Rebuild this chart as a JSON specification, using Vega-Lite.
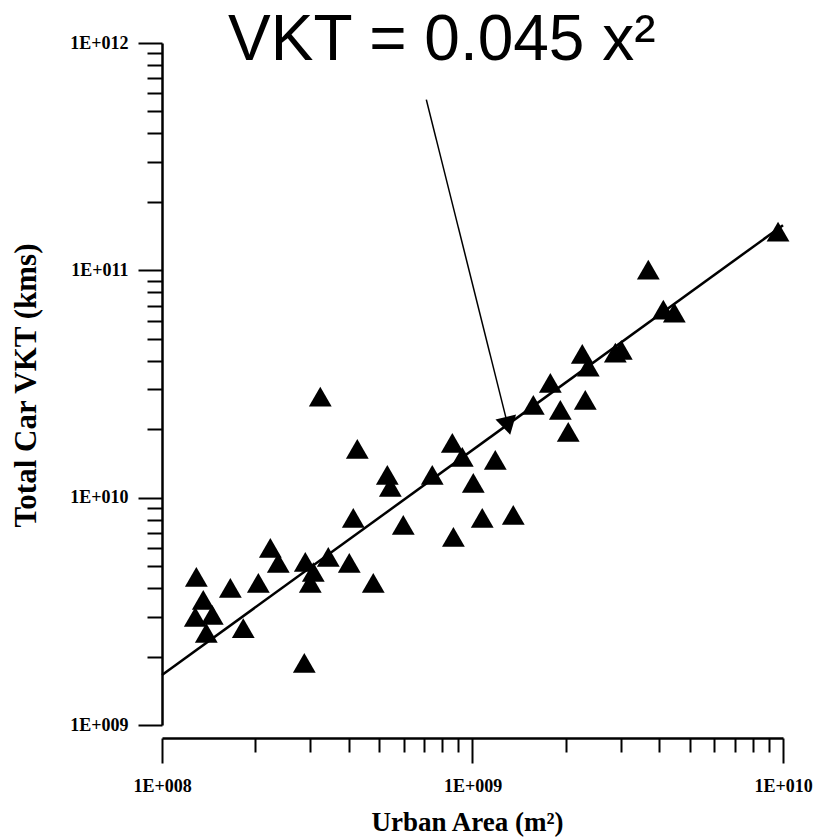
{
  "$schema": "https://vega.github.io/schema/vega-lite/v6.json",
  "autosize": {"type": "none"},
  "padding": {"left": 162, "top": 43, "right": 31, "bottom": 115},
  "width": 621,
  "height": 682,
  "background": "white",
  "config": {
    "view": {"stroke": null},
    "axis": {
      "grid": false,
      "domainColor": "black",
      "domainWidth": 2.5,
      "tickColor": "black",
      "tickWidth": 2,
      "labelFont": "Liberation Serif",
      "labelFontWeight": "bold",
      "labelFontSize": 18,
      "labelColor": "black",
      "labelOverlap": false,
      "labelFlush": false,
      "titleFont": "Liberation Serif",
      "titleFontWeight": "bold",
      "titleFontSize": 27,
      "titleColor": "black"
    }
  },
  "datasets": {
    "cities": [
      {"area": 1.29e8, "vkt": 4.48e9},
      {"area": 1.358e8, "vkt": 3.55e9},
      {"area": 1.28e8, "vkt": 2.99e9},
      {"area": 1.452e8, "vkt": 3.05e9},
      {"area": 1.389e8, "vkt": 2.54e9},
      {"area": 1.66e8, "vkt": 4.01e9},
      {"area": 2.043e8, "vkt": 4.22e9},
      {"area": 1.827e8, "vkt": 2.67e9},
      {"area": 2.233e8, "vkt": 6.01e9},
      {"area": 2.369e8, "vkt": 5.16e9},
      {"area": 2.894e8, "vkt": 5.22e9},
      {"area": 3.071e8, "vkt": 4.71e9},
      {"area": 3.003e8, "vkt": 4.22e9},
      {"area": 3.432e8, "vkt": 5.49e9},
      {"area": 4.01e8, "vkt": 5.16e9},
      {"area": 4.791e8, "vkt": 4.22e9},
      {"area": 2.873e8, "vkt": 1.875e9},
      {"area": 3.234e8, "vkt": 2.78e10},
      {"area": 4.256e8, "vkt": 1.64e10},
      {"area": 4.131e8, "vkt": 8.15e9},
      {"area": 5.317e8, "vkt": 1.26e10},
      {"area": 5.437e8, "vkt": 1.116e10},
      {"area": 5.985e8, "vkt": 7.59e9},
      {"area": 7.42e8, "vkt": 1.26e10},
      {"area": 8.61e8, "vkt": 1.743e10},
      {"area": 9.27e8, "vkt": 1.512e10},
      {"area": 8.68e8, "vkt": 6.72e9},
      {"area": 1.006e9, "vkt": 1.162e10},
      {"area": 1.075e9, "vkt": 8.15e9},
      {"area": 1.184e9, "vkt": 1.467e10},
      {"area": 1.353e9, "vkt": 8.4e9},
      {"area": 1.57e9, "vkt": 2.562e10},
      {"area": 1.781e9, "vkt": 3.2e10},
      {"area": 1.918e9, "vkt": 2.435e10},
      {"area": 2.034e9, "vkt": 1.948e10},
      {"area": 2.308e9, "vkt": 2.69e10},
      {"area": 2.257e9, "vkt": 4.29e10},
      {"area": 2.36e9, "vkt": 3.77e10},
      {"area": 2.884e9, "vkt": 4.34e10},
      {"area": 3.015e9, "vkt": 4.47e10},
      {"area": 3.683e9, "vkt": 1.006e11},
      {"area": 4.117e9, "vkt": 6.71e10},
      {"area": 4.467e9, "vkt": 6.51e10},
      {"area": 9.64e9, "vkt": 1.479e11}
    ],
    "fit": [
      {"area": 1e8, "vkt": 1.66e9},
      {"area": 1e10, "vkt": 1.58e11}
    ]
  },
  "layer": [
    {
      "data": {"name": "cities"},
      "mark": {"type": "point", "shape": "triangle-up", "filled": true, "color": "black", "opacity": 1, "size": 520},
      "encoding": {
        "x": {
          "field": "area",
          "type": "quantitative",
          "title": "Urban Area (m²)",
          "scale": {"type": "log", "domain": [1e8, 1e10], "nice": false},
          "axis": {
            "offset": 13,
            "values": [1e8, 2e8, 3e8, 4e8, 5e8, 6e8, 7e8, 8e8, 9e8, 1e9, 2e9, 3e9, 4e9, 5e9, 6e9, 7e9, 8e9, 9e9, 1e10],
            "tickSize": {"condition": {"test": "abs(log(datum.value)/LN10 - round(log(datum.value)/LN10)) < 0.001", "value": 25}, "value": 14},
            "labelPadding": 14,
            "labelExpr": "abs(log(datum.value)/LN10 - round(log(datum.value)/LN10)) < 0.001 ? '1E+' + (round(log(datum.value)/LN10) < 10 ? '00' : '0') + round(log(datum.value)/LN10) : ''",
            "titleX": 305,
            "titleY": 84,
            "titleBaseline": "middle",
            "titleAlign": "center"
          }
        },
        "y": {
          "field": "vkt",
          "type": "quantitative",
          "title": "Total Car VKT (kms)",
          "scale": {"type": "log", "domain": [1e9, 1e12], "nice": false},
          "axis": {
            "values": [1e9, 2e9, 3e9, 4e9, 5e9, 6e9, 7e9, 8e9, 9e9, 1e10, 2e10, 3e10, 4e10, 5e10, 6e10, 7e10, 8e10, 9e10, 1e11, 2e11, 3e11, 4e11, 5e11, 6e11, 7e11, 8e11, 9e11, 1e12],
            "tickSize": {"condition": {"test": "abs(log(datum.value)/LN10 - round(log(datum.value)/LN10)) < 0.001", "value": 24}, "value": 15},
            "labelPadding": 10,
            "labelExpr": "abs(log(datum.value)/LN10 - round(log(datum.value)/LN10)) < 0.001 ? '1E+' + (round(log(datum.value)/LN10) < 10 ? '00' : '0') + round(log(datum.value)/LN10) : ''",
            "titleFontSize": 31,
            "titleX": -136,
            "titleY": 342,
            "titleAngle": -90,
            "titleBaseline": "middle",
            "titleAlign": "center"
          }
        }
      }
    },
    {
      "data": {"name": "fit"},
      "mark": {"type": "line", "color": "black", "strokeWidth": 2.5},
      "encoding": {
        "x": {"field": "area", "type": "quantitative", "title": "Urban Area (m²)"},
        "y": {"field": "vkt", "type": "quantitative", "title": "Total Car VKT (kms)"}
      }
    },
    {
      "data": {"values": [{}]},
      "mark": {"type": "rule", "color": "black", "strokeWidth": 1.5},
      "encoding": {
        "x": {"datum": 7.1e8, "type": "quantitative", "title": "Urban Area (m²)"},
        "y": {"datum": 5.636e11, "type": "quantitative", "title": "Total Car VKT (kms)"},
        "x2": {"datum": 1.301e9},
        "y2": {"datum": 2.069e10}
      }
    },
    {
      "data": {"values": [{}]},
      "mark": {"type": "point", "shape": "triangle-up", "filled": true, "color": "black", "opacity": 1, "size": 450, "angle": 166},
      "encoding": {
        "x": {"datum": 1.301e9, "type": "quantitative", "title": "Urban Area (m²)"},
        "y": {"datum": 2.069e10, "type": "quantitative", "title": "Total Car VKT (kms)"}
      }
    },
    {
      "data": {"values": [{"label": "VKT = 0.045 x²"}]},
      "mark": {"type": "text", "font": "Liberation Sans", "fontSize": 64, "color": "black", "align": "left", "baseline": "alphabetic"},
      "encoding": {
        "x": {"datum": 1.632e8, "type": "quantitative", "title": "Urban Area (m²)"},
        "y": {"datum": 8.45e11, "type": "quantitative", "title": "Total Car VKT (kms)"},
        "text": {"field": "label"}
      }
    }
  ]
}
